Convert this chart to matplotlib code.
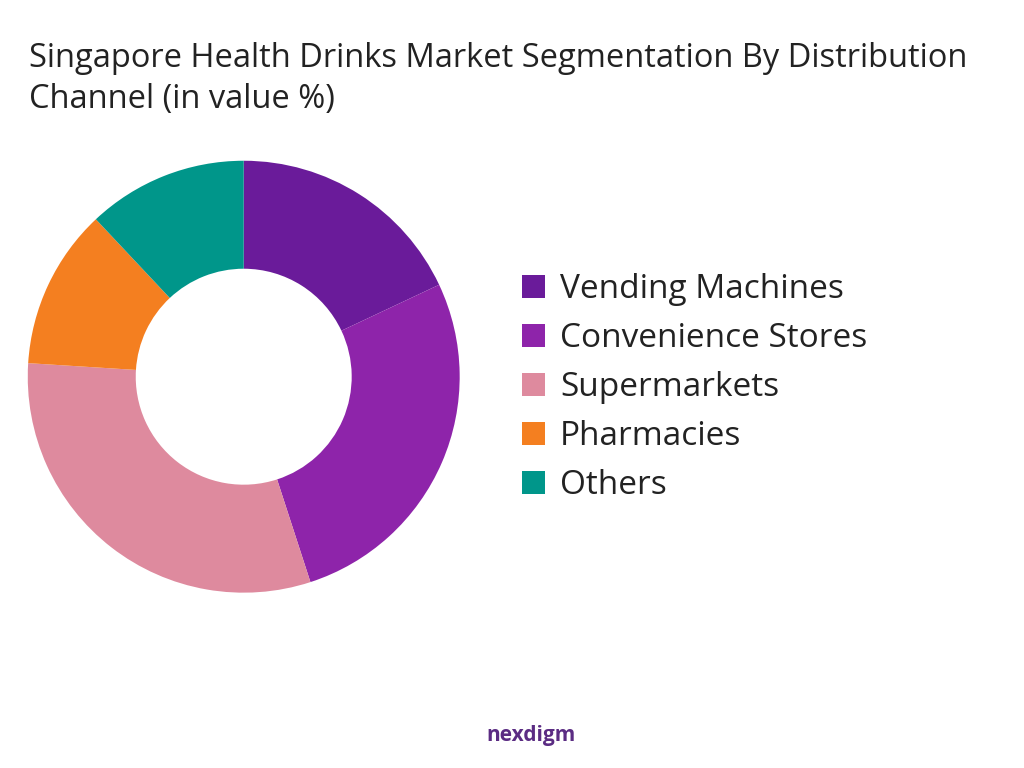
import matplotlib.pyplot as plt
from matplotlib.patches import Patch

# Datos
labels = ['Vending Machines', 'Convenience Stores', 'Supermarkets', 'Pharmacies', 'Others']
values = [18, 27, 31, 12, 12]
colors = ['#6A1B9A', '#8E24AA', '#DE8A9E', '#F47F20', '#00968A']

plt.rcParams['font.family'] = ['Open Sans', 'DejaVu Sans']

fig = plt.figure(figsize=(10.24, 7.68), dpi=100)
ax = fig.add_axes([-0.027, 0.158, 0.53, 0.703])
ax.pie(values, colors=colors, startangle=90, counterclock=False,
       wedgeprops=dict(width=0.5, edgecolor='none'))
ax.set_aspect('equal')

fig.text(0.028, 0.945, 'Singapore Health Drinks Market Segmentation By Distribution\nChannel (in value %)',
         fontsize=23.5, color='#222222', va='top', linespacing=1.3)

handles = [Patch(facecolor=c) for c in colors]
fig.legend(handles, labels, loc='center left', bbox_to_anchor=(0.48, 0.495),
           frameon=False, fontsize=24, handlelength=0.7, handleheight=0.7,
           labelspacing=0.48, handletextpad=0.45, labelcolor='#222222')

fig.text(0.475, 0.042, 'nexdigm', fontsize=15, fontweight='bold', color='#5B2C83', va='center')

fig.savefig('out.png', dpi=100)
